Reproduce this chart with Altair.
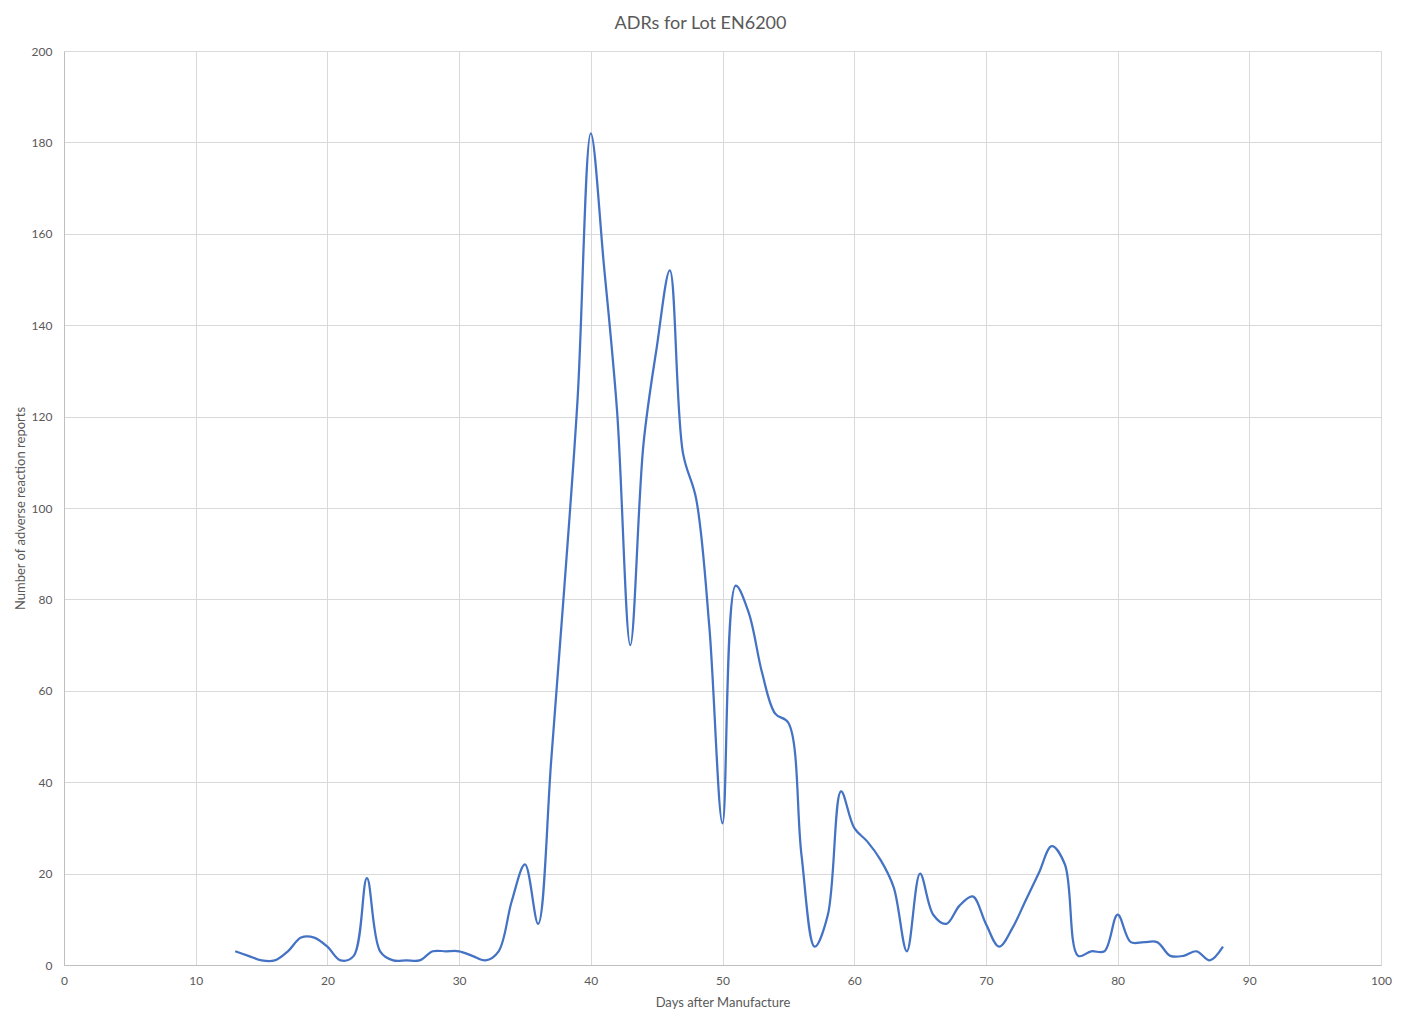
import altair as alt
import pandas as pd

days = list(range(13, 89))
reports = [3, 2, 1, 1, 3, 6, 6, 4, 1, 2,
           19, 3, 1, 1, 1, 3, 3, 3, 2, 1,
           3, 14, 22, 9, 45, 83, 124, 182, 153, 121,
           70, 114, 135, 152, 112, 102, 74, 31, 83, 77,
           64, 55, 53, 24, 4, 11, 38, 30, 27, 23,
           17, 3, 20, 11, 9, 13, 15, 9, 4, 8,
           14, 20, 26, 22, 2, 3, 3, 11, 5, 5,
           5, 2, 2, 3, 1, 4]

df = pd.DataFrame({"day": days, "reports": reports})

FONT = "Lato"
GREY = "#595959"

axis_style = dict(
    labelFont=FONT, labelFontSize=12, labelColor=GREY, labelFlush=False,
    titleFont=FONT, titleFontSize=13, titleColor=GREY, titleFontWeight="normal",
    gridColor="#d9d9d9", gridWidth=1, ticks=False,
    domainColor="#bfbfbf", domainWidth=1,
)

chart = alt.Chart(df).mark_line(
    interpolate="catmull-rom", color="#4472C4", strokeWidth=2.25
).encode(
    x=alt.X("day:Q", title="Days after Manufacture",
            scale=alt.Scale(domain=[0, 100], nice=False),
            axis=alt.Axis(values=list(range(0, 101, 10)), labelPadding=10,
                          titlePadding=10, **axis_style)),
    y=alt.Y("reports:Q", title="Number of adverse reaction reports",
            scale=alt.Scale(domain=[0, 200], nice=False),
            axis=alt.Axis(values=list(range(0, 201, 20)), labelPadding=12,
                          titlePadding=4, **axis_style)),
).properties(
    width=1317, height=914,
    autosize=alt.AutoSizeParams(type="none"),
    padding={"left": 56, "top": 43, "right": 15, "bottom": 55},
    background="white",
    title=alt.TitleParams("ADRs for Lot EN6200", fontSize=18, font=FONT,
                          color=GREY, fontWeight="normal", offset=12,
                          dx=-22, anchor="middle"),
).configure_view(stroke=None)

chart.save("out.html", embed_options={"renderer": "svg", "actions": False})
